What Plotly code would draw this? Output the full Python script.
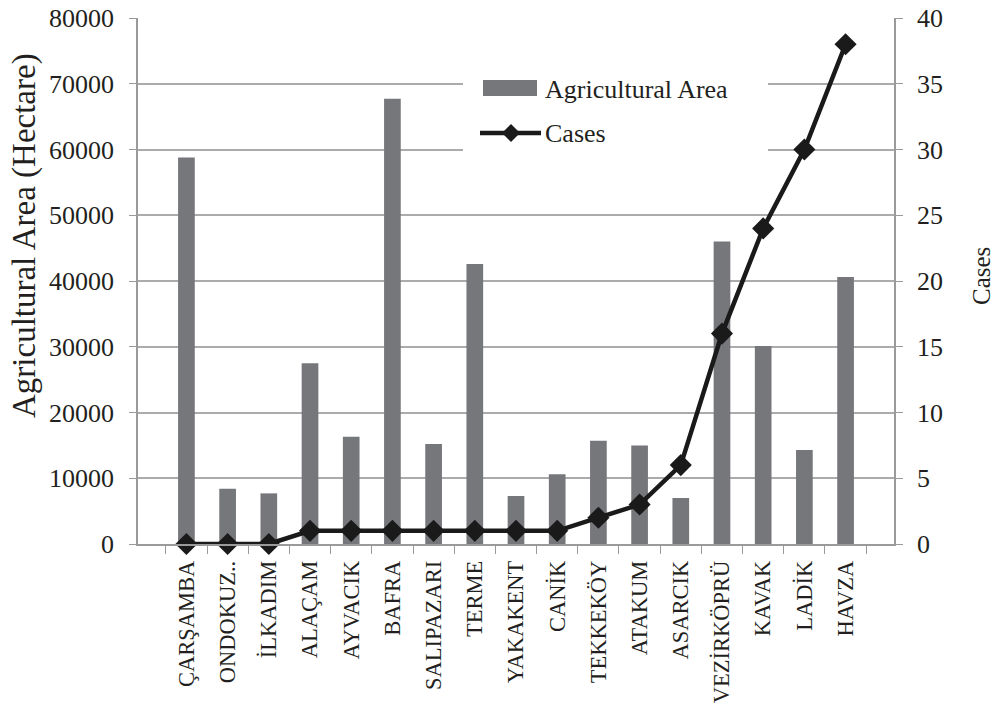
import plotly.graph_objects as go

districts = ["ÇARŞAMBA", "ONDOKUZ..", "İLKADIM", "ALAÇAM", "AYVACIK", "BAFRA",
             "SALIPAZARI", "TERME", "YAKAKENT", "CANİK", "TEKKEKÖY", "ATAKUM",
             "ASARCIK", "VEZİRKÖPRÜ", "KAVAK", "LADİK", "HAVZA"]
agricultural_area = [58800, 8400, 7700, 27500, 16300, 67700, 15200, 42600,
                     7300, 10600, 15700, 15000, 7000, 46000, 30100, 14300, 40600]
cases = [0, 0, 0, 1, 1, 1, 1, 1, 1, 1, 2, 3, 6, 16, 24, 30, 38]

area_ticks = list(range(0, 80001, 10000))
case_ticks = list(range(0, 41, 5))

FONT = "Liberation Serif"
TXT = "#231f20"
AXIS = "#9a9a9a"
GRID = "#ababab"
BAR = "#76777b"
LINE = "#1a1a1a"

W, H = 997, 713
ML, MR, MT, MB = 138, 103, 18, 169
PW, PH = W - ML - MR, H - MT - MB


def px(x):
    """Pixel column -> paper x."""
    return (x - ML) / PW


def py(y):
    """Pixel row -> paper y."""
    return (H - MB - y) / PH


fig = go.Figure()
fig.add_trace(go.Bar(
    x=districts, y=agricultural_area, name="Agricultural Area",
    marker=dict(color=BAR, line=dict(width=0)), showlegend=False,
))
fig.add_trace(go.Scatter(
    x=districts, y=cases, name="Cases", yaxis="y2", mode="lines+markers",
    line=dict(color=LINE, width=4.5),
    marker=dict(symbol="diamond", size=17, color=LINE),
    cliponaxis=False, showlegend=False,
))

# Legend box drawn with shapes so the bar swatch can be a wide rectangle
dx, dy = 511, 133
shapes = [
    dict(type="rect", xref="paper", yref="paper", layer="above",
         x0=px(463), x1=px(768), y0=py(160), y1=py(62),
         fillcolor="white", line=dict(width=0)),
    dict(type="rect", xref="paper", yref="paper", layer="above",
         x0=px(483), x1=px(537), y0=py(96), y1=py(80),
         fillcolor=BAR, line=dict(width=0)),
    dict(type="line", xref="paper", yref="paper", layer="above",
         x0=px(480), x1=px(541), y0=py(dy), y1=py(dy),
         line=dict(color=LINE, width=4.5)),
    dict(type="path", xref="paper", yref="paper", layer="above",
         path=f"M {px(dx - 9)} {py(dy)} L {px(dx)} {py(dy - 9)} "
              f"L {px(dx + 9)} {py(dy)} L {px(dx)} {py(dy + 9)} Z",
         fillcolor=LINE, line=dict(width=0)),
]

annotations = [
    dict(text="Agricultural Area", xref="paper", yref="paper",
         x=px(543), y=py(89), xanchor="left", yanchor="middle",
         showarrow=False, font=dict(family=FONT, size=26, color=TXT)),
    dict(text="Cases", xref="paper", yref="paper",
         x=px(543), y=py(133), xanchor="left", yanchor="middle",
         showarrow=False, font=dict(family=FONT, size=26, color=TXT)),
    dict(text="Agricultural Area (Hectare)", textangle=-90,
         xref="paper", yref="paper", x=px(24), y=py(236),
         xanchor="center", yanchor="middle", showarrow=False,
         font=dict(family=FONT, size=33, color=TXT)),
    dict(text="Cases", textangle=-90,
         xref="paper", yref="paper", x=px(981), y=py(276),
         xanchor="center", yanchor="middle", showarrow=False,
         font=dict(family=FONT, size=25, color=TXT)),
]

fig.update_layout(
    width=W, height=H,
    margin=dict(l=ML, r=MR, t=MT, b=MB, autoexpand=False),
    paper_bgcolor="white", plot_bgcolor="white",
    font=dict(family=FONT, color=TXT, size=25),
    bargap=0.595,
    showlegend=False,
    xaxis=dict(
        type="category", tickangle=-90, automargin=False,
        tickfont=dict(family=FONT, size=22.5, color=TXT),
        ticklabelstandoff=6,
        showline=True, linecolor=AXIS, linewidth=1.5,
        ticks="outside", tickson="boundaries", ticklen=8, tickcolor=AXIS,
        showgrid=False,
    ),
    yaxis=dict(
        range=[0, 80000], tickvals=area_ticks, ticktext=[str(v) for v in area_ticks],
        automargin=False, ticklabelstandoff=10,
        tickfont=dict(family=FONT, size=26, color=TXT),
        showline=True, linecolor=AXIS, linewidth=1.5,
        ticks="outside", ticklen=7, tickcolor=AXIS,
        showgrid=True, gridcolor=GRID, gridwidth=1.5, zeroline=False,
    ),
    yaxis2=dict(
        range=[0, 40], tickvals=case_ticks, overlaying="y", side="right",
        automargin=False, ticklabelstandoff=9,
        tickfont=dict(family=FONT, size=26, color=TXT),
        showline=True, linecolor=AXIS, linewidth=1.5,
        ticks="outside", ticklen=7, tickcolor=AXIS,
        showgrid=False, zeroline=False,
    ),
    shapes=shapes,
    annotations=annotations,
)

fig.write_html("out.html")
